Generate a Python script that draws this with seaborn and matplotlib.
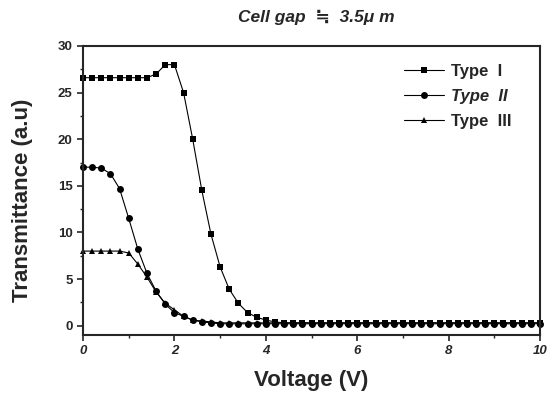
import numpy as np
import pandas as pd
import matplotlib
matplotlib.use("Agg")
import matplotlib.pyplot as plt
import seaborn as sns

# voltage steps of 0.2 V, 0..10 V
voltage = np.round(np.arange(0, 10.01, 0.2), 1)

type1_head = [26.6, 26.6, 26.6, 26.6, 26.6, 26.6, 26.6, 26.6, 27.0, 28.0,
              28.0, 25.0, 20.0, 14.5, 9.8, 6.3, 3.9, 2.4, 1.4, 0.9,
              0.6, 0.4]
type2_head = [17.0, 17.0, 16.9, 16.3, 14.7, 11.5, 8.2, 5.6, 3.7, 2.3,
              1.4, 1.0, 0.6, 0.4, 0.3]
type3_head = [8.0, 8.0, 8.0, 8.0, 8.0, 7.8, 6.6, 5.2, 3.6, 2.4,
              1.7, 1.0, 0.6, 0.5, 0.4]

type1 = type1_head + [0.3] * (len(voltage) - len(type1_head))
type2 = type2_head + [0.2] * (len(voltage) - len(type2_head))
type3 = type3_head + [0.3] * (len(voltage) - len(type3_head))

df = pd.DataFrame({"Voltage": voltage, "I": type1, "II": type2, "III": type3})

sns.set_style("ticks")
plt.rcParams["font.family"] = ["Liberation Sans", "DejaVu Sans"]

fig = plt.figure(figsize=(5.48, 4.01), dpi=100)
ax = fig.add_axes([0.1515, 0.1646, 0.834, 0.7207])

series = [("I", "s", 5.0, "Type  I", "normal"),
          ("II", "o", 5.0, "Type  II", "italic"),
          ("III", "^", 4.5, "Type  III", "normal")]
for col, mk, ms, lab, _ in series:
    sns.lineplot(data=df, x="Voltage", y=col, ax=ax, color="black", lw=0.8,
                 marker=mk, markersize=ms, markeredgewidth=0, label=lab,
                 clip_on=False)

ax.set_xlim(0, 10)
ax.set_ylim(-1, 30)
ax.set_xticks([0, 2, 4, 6, 8, 10])
ax.set_xticks([1, 3, 5, 7, 9], minor=True)
ax.set_yticks([0, 5, 10, 15, 20, 25, 30])
ax.set_yticks([2.5, 7.5, 12.5, 17.5, 22.5, 27.5], minor=True)
ax.tick_params(which="major", direction="out", length=4, width=1.2)
ax.tick_params(which="minor", direction="out", length=2.5, width=1.0)
for lbl in ax.get_xticklabels():
    lbl.set_fontweight("bold")
    lbl.set_fontstyle("italic")
    lbl.set_fontsize(9.5)
for lbl in ax.get_yticklabels():
    lbl.set_fontweight("bold")
    lbl.set_fontsize(9.5)
for sp in ax.spines.values():
    sp.set_linewidth(1.5)
    sp.set_visible(True)

ax.set_xlabel("Voltage (V)", fontsize=16, fontweight="bold", labelpad=9)
ax.set_ylabel("Transmittance (a.u)", fontsize=16, fontweight="bold")
ax.yaxis.set_label_coords(-0.11, 0.467)
fig.text(0.577, 0.957, "Cell gap  \u2252  3.5\u03bc m", ha="center", va="center",
         fontsize=12.5, fontweight="bold", fontstyle="italic")

leg = ax.legend(loc="upper right", bbox_to_anchor=(0.97, 0.99), frameon=False,
                prop={"weight": "bold", "size": 12}, handlelength=2.4,
                handletextpad=0.4, labelspacing=0.6)
for txt, (_, _, _, _, style) in zip(leg.get_texts(), series):
    txt.set_fontstyle(style)

fig.savefig("out.png", dpi=100)
